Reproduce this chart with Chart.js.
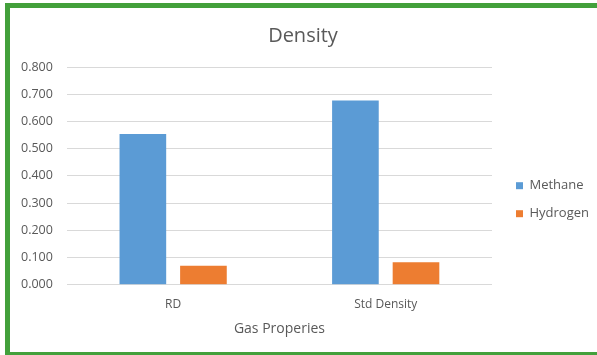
<html lang="en">
<head>
    <title>Density</title>
    <script src="https://cdn.jsdelivr.net/npm/chart.js@4.4.0/dist/chart.umd.min.js"></script>
    <style>
        html, body { margin: 0; padding: 0; background: #fff; overflow: hidden; }
        #page { position: relative; width: 597px; height: 355px; overflow: hidden; }
        #frame {
            position: absolute; left: 5px; top: 3px;
            width: 592px; height: 354px; background: #fff;
            box-shadow: inset 5px 0 0 #43a03b, inset 0 5px 0 #43a03b, inset 0 -5px 0 #43a03b;
        }
        #box { position: absolute; left: 2px; top: 5px; width: 599px; height: 344px; }
    </style>
</head>
<body>
<div id="page">
    <div id="frame">
        <div id="box"><canvas id="density-chart"></canvas></div>
    </div>
</div>
<script>
    const categories = ['RD', 'Std Density'];
    const methane = [0.554, 0.677];
    const hydrogen = [0.070, 0.083];
    const seriesNames = ['Methane', 'Hydrogen'];

    const textColor = '#595959';
    const font = "'Open Sans', sans-serif";

    new Chart(document.getElementById('density-chart'), {
        type: 'bar',
        data: {
            labels: categories,
            datasets: [
                {label: seriesNames[0], data: methane, backgroundColor: '#5b9bd5'},
                {label: seriesNames[1], data: hydrogen, backgroundColor: '#ed7d31'}
            ]
        },
        options: {
            responsive: true,
            maintainAspectRatio: false,
            animation: false,
            categoryPercentage: 0.57,
            barPercentage: 0.77,
            layout: {padding: {left: 0, right: 7, top: 12, bottom: 11}},
            plugins: {
                title: {
                    display: true,
                    text: 'Density',
                    color: textColor,
                    font: {family: font, size: 20, weight: 'normal'},
                    padding: {top: 4, bottom: 19}
                },
                legend: {
                    position: 'right',
                    // empty title only pushes the items down a little
                    title: {display: true, text: ' ', padding: {top: 12, bottom: 12}},
                    labels: {
                        color: textColor,
                        font: {family: font, size: 13},
                        boxWidth: 7,
                        boxHeight: 7,
                        padding: 15
                    }
                },
                tooltip: {enabled: false}
            },
            scales: {
                x: {
                    grid: {display: false},
                    border: {display: false},
                    ticks: {color: textColor, font: {family: font, size: 12}, padding: 5},
                    title: {
                        display: true,
                        text: 'Gas Properies',
                        color: textColor,
                        font: {family: font, size: 14},
                        padding: {top: 3}
                    }
                },
                y: {
                    min: 0,
                    max: 0.8,
                    ticks: {
                        stepSize: 0.1,
                        color: textColor,
                        font: {family: font, size: 12.5},
                        padding: 14,
                        callback: v => v.toFixed(3)
                    },
                    grid: {color: '#d9d9d9', drawTicks: false},
                    border: {display: false}
                },
                // blank spacer between plot and legend
                gap: {
                    type: 'linear',
                    position: 'right',
                    grid: {display: false},
                    border: {display: false},
                    ticks: {display: false},
                    afterFit: s => { s.width = 9; }
                }
            }
        }
    });
</script>
</body>
</html>
